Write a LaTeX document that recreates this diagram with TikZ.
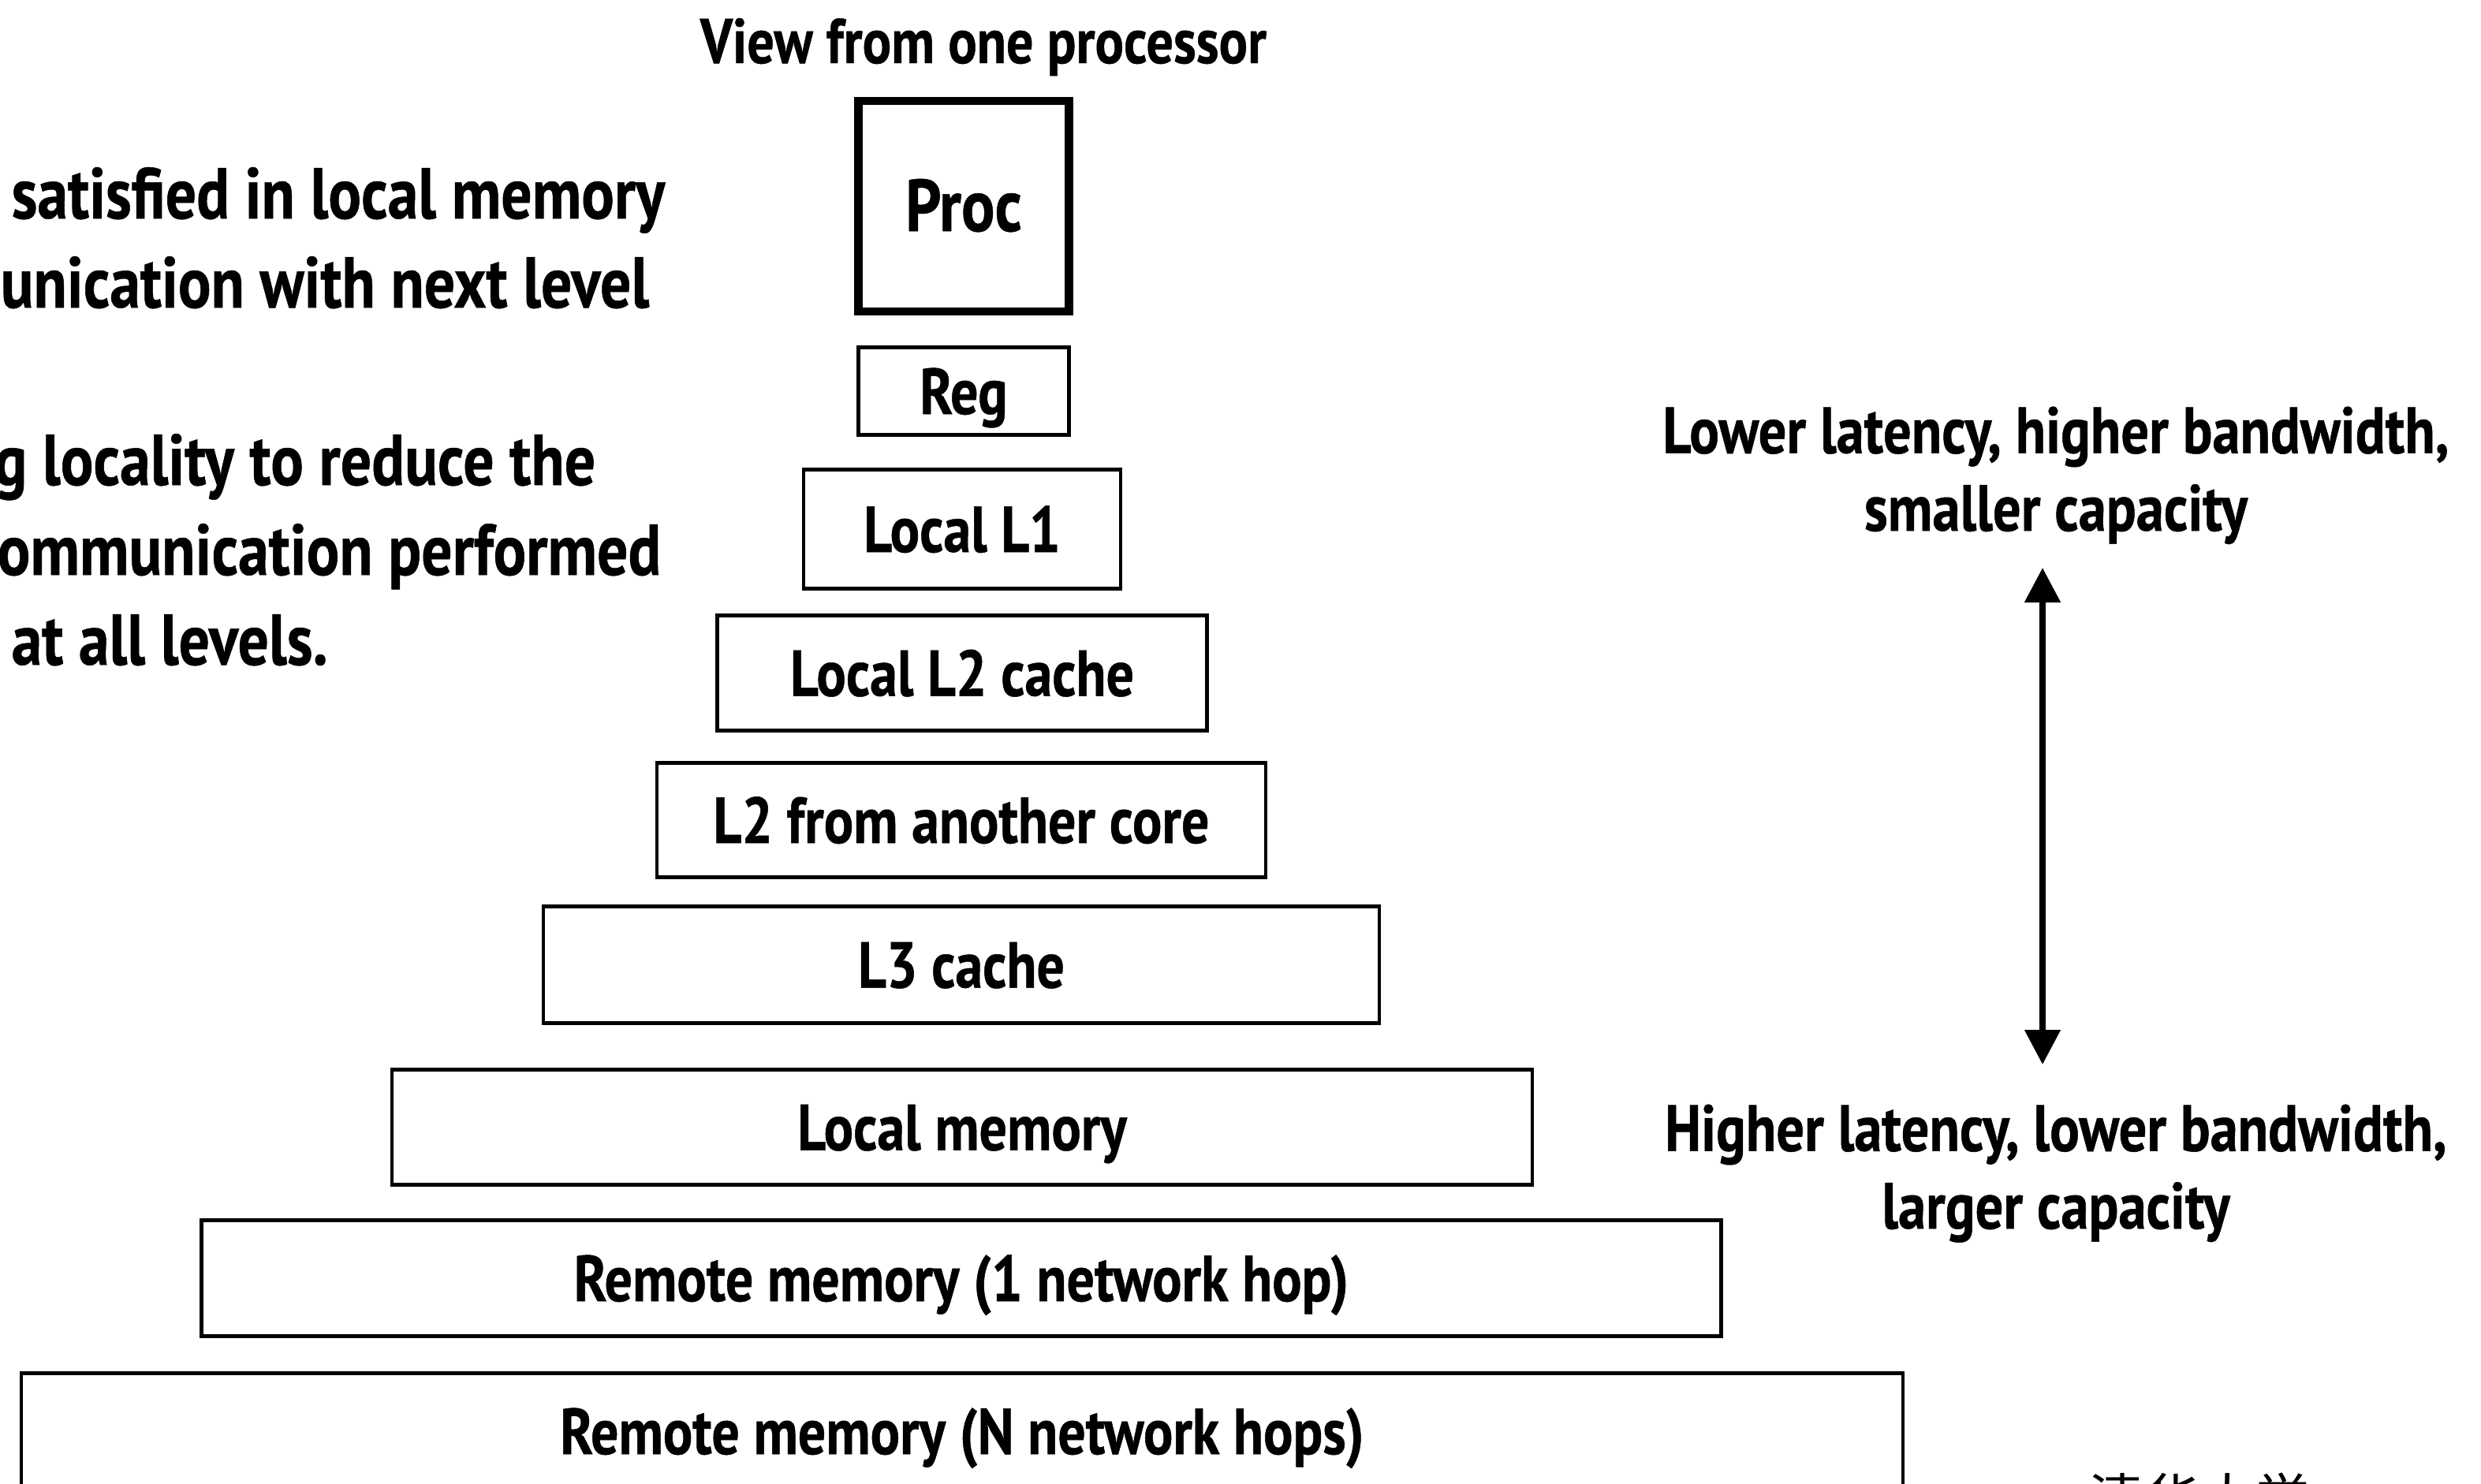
\documentclass[tikz,border=0pt]{standalone}
\usepackage{fontspec}
\setmainfont{PT Sans}[FakeStretch=0.85, BoldFeatures={FakeBold=0.6}]
\newfontfamily\cjkfont{Noto Sans CJK SC}
\usetikzlibrary{arrows.meta}

\tikzset{
    level/.style={draw, line width=1.4pt, inner sep=0pt, text height=0.58cm, text depth=0pt,
        font=\bfseries\fontsize{23.4}{28}\selectfont},
    note/.style={anchor=base west, inner sep=0pt, font=\bfseries\fontsize{26}{30}\selectfont},
    side/.style={align=center, inner sep=0pt, font=\bfseries\fontsize{23.6}{28}\selectfont},
}

\begin{document}
\begin{tikzpicture}
    \useasboundingbox (0,0) rectangle (31.46,-18.82);
    \clip (0,0) rectangle (31.46,-18.82);

    % memory hierarchy, top to bottom
    \node[anchor=base, inner sep=0pt, font=\bfseries\fontsize{22.8}{28}\selectfont] (title) at (12.47,-0.80) {View from one processor};
    \node[level, line width=2.9pt, minimum width=2.67cm, minimum height=2.67cm, text height=0.63cm,
        font=\bfseries\fontsize{26.5}{30}\selectfont] (proc) at (12.22,-2.615) {Proc};
    \node[level, minimum width=2.67cm, minimum height=1.11cm] (reg) at (12.22,-4.96) {Reg};
    \node[level, minimum width=4.02cm, minimum height=1.51cm] (l1) at (12.2,-6.71) {Local L1};
    \node[level, minimum width=6.21cm, minimum height=1.46cm] (l2) at (12.2,-8.535) {Local L2 cache};
    \node[level, minimum width=7.72cm, minimum height=1.45cm] (l2other) at (12.19,-10.40) {L2 from another core};
    \node[level, minimum width=10.60cm, minimum height=1.48cm] (l3) at (12.19,-12.235) {L3 cache};
    \node[level, minimum width=14.46cm, minimum height=1.46cm] (localmem) at (12.2,-14.295) {Local memory};
    \node[level, minimum width=19.27cm, minimum height=1.47cm] (remote1) at (12.19,-16.21) {Remote memory (1 network hop)};
    \node[level, minimum width=23.86cm, minimum height=1.47cm] (remoteN) at (12.2,-18.15) {Remote memory (N network hops)};

    % notes on the left
    \node[note] (note1) at (0.14,-2.77) {satisfied in local memory};
    \node[note] (note2) at (0.00,-3.90) {unication with next level};
    \node[note] (note3) at (-0.08,-6.15) {g locality to reduce the};
    \node[note] (note4) at (-0.04,-7.29) {ommunication performed};
    \node[note] (note5) at (0.14,-8.43) {at all levels.};

    % latency / capacity scale
    \node[side, anchor=north] (fast) at (26.07,-5.15) {Lower latency, higher bandwidth,\\smaller capacity};
    \node[side, anchor=north] (slow) at (26.07,-14.0) {Higher latency, lower bandwidth,\\larger capacity};
    \coordinate (hi) at (25.90,-7.20);
    \coordinate (lo) at (25.90,-13.50);
    \draw[{Triangle[length=0.44cm,width=0.44cm]}-{Triangle[length=0.44cm,width=0.44cm]}, line width=2.3pt] (hi) -- (lo);

    \node[anchor=base west, inner sep=0pt, font=\cjkfont\fontsize{20}{20}\selectfont] (mark) at (26.48,-19.27) {清华大学};
\end{tikzpicture}
\end{document}
